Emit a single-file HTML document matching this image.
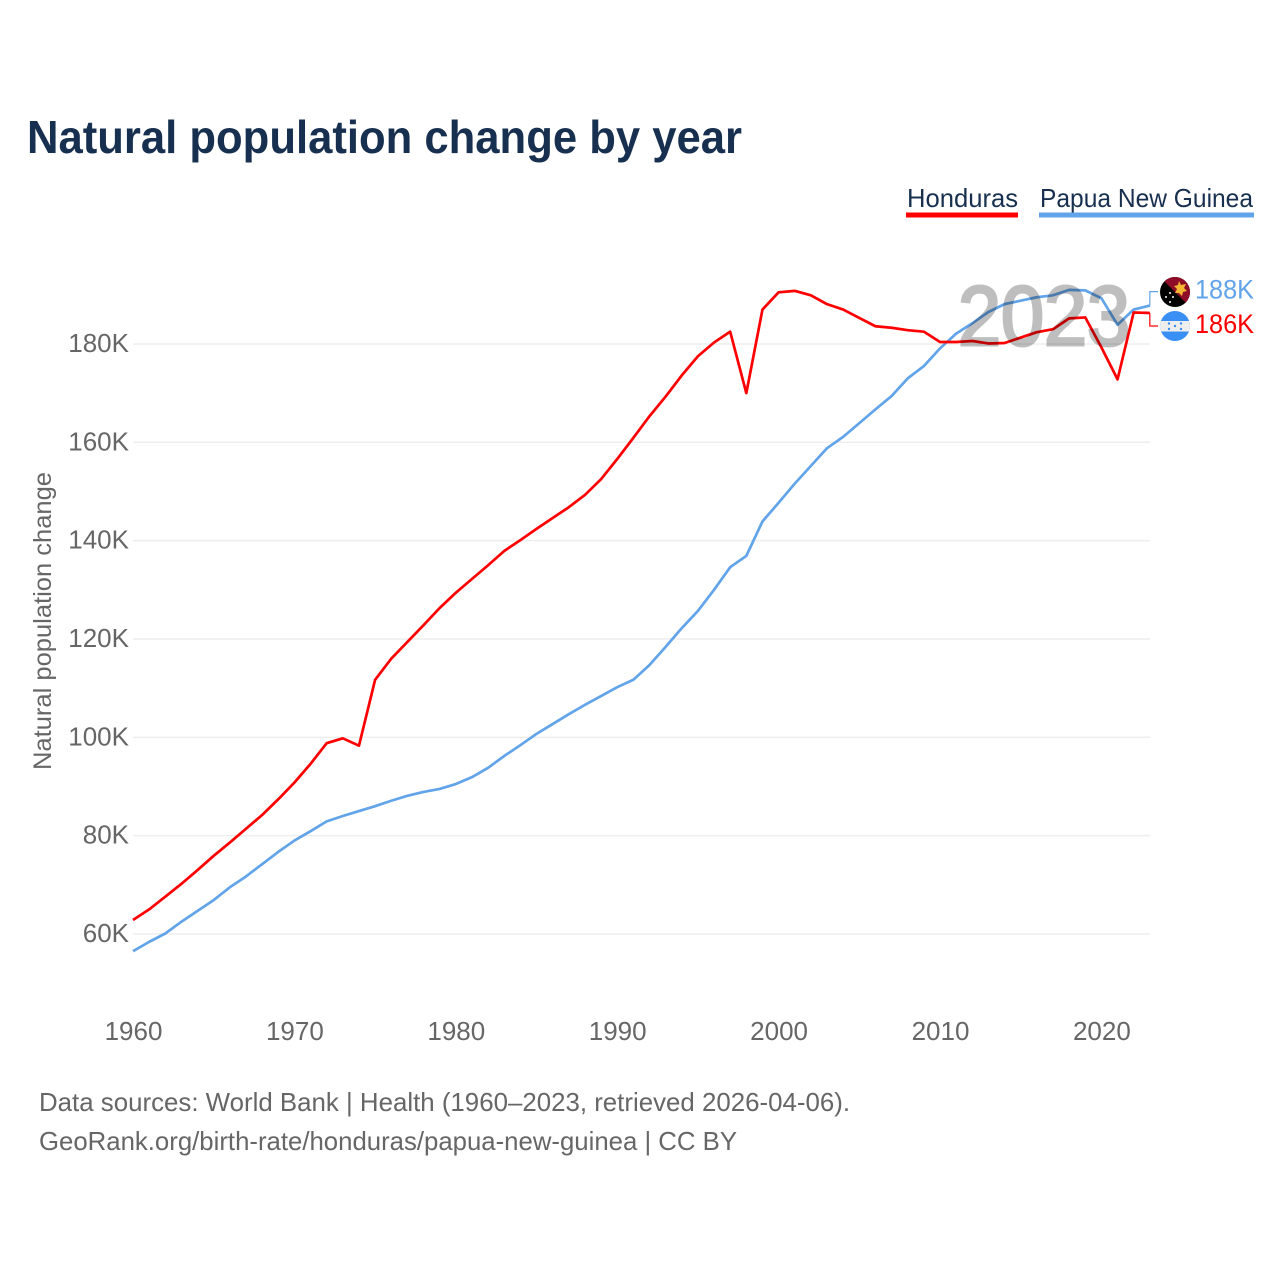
<!DOCTYPE html>
<html lang="en">
<head>
<meta charset="utf-8">
<title>Natural population change by year</title>
<style>
html,body{margin:0;padding:0;background:#fff;}
svg{display:block;font-family:"Liberation Sans",sans-serif;}
</style>
</head>
<body>
<svg id="chart" width="1280" height="1280" viewBox="0 0 1280 1280" xmlns="http://www.w3.org/2000/svg">
  <defs>
    <clipPath id="clip-png"><circle cx="1175" cy="292" r="15"/></clipPath>
    <clipPath id="clip-hnd"><circle cx="1175" cy="326" r="15"/></clipPath>
  </defs>
  <text x="27" y="153" font-size="46" font-weight="700" fill="#18304f" textLength="715" lengthAdjust="spacingAndGlyphs">Natural population change by year</text>

  <g>
    <g>
      <text x="907" y="207" font-size="26" fill="#18304f" textLength="111" lengthAdjust="spacingAndGlyphs">Honduras</text>
      <rect x="906" y="212.5" width="112" height="5" fill="#ff0000"/>
    </g>
    <g>
      <text x="1040" y="207" font-size="26" fill="#18304f" textLength="213" lengthAdjust="spacingAndGlyphs">Papua New Guinea</text>
      <rect x="1039" y="212.5" width="215" height="5" fill="#62a4ea"/>
    </g>
  </g>

  <g id="grid"></g>
  <g id="y-axis"></g>
  <g id="x-axis"></g>
  <text transform="translate(51,770) rotate(-90)" font-size="25" fill="#666666" textLength="298" lengthAdjust="spacingAndGlyphs">Natural population change</text>

  <g id="series"></g>
  <text x="958" y="345" font-size="84" font-weight="400" fill="#000000" stroke="#000000" stroke-width="3" opacity="0.25" textLength="172" lengthAdjust="spacingAndGlyphs">2023</text>
  <g id="end-labels"></g>

  <g clip-path="url(#clip-png)">
    <rect x="1160" y="277" width="30" height="30" fill="#000000"/>
    <polygon points="1160,277 1190,277 1190,307" fill="#8f0d28"/>
    <polygon points="1179,281 1181,285 1186,284 1184,288 1187,291 1183,292 1182,296 1179,293 1175,293 1177,289 1174,286 1178,285" fill="#f2b632"/>
    <circle cx="1170" cy="293" r="1" fill="#fff"/>
    <circle cx="1166" cy="297" r="1" fill="#fff"/>
    <circle cx="1173" cy="297" r="1" fill="#fff"/>
    <circle cx="1170" cy="302" r="1" fill="#fff"/>
  </g>
  <g clip-path="url(#clip-hnd)">
    <rect x="1160" y="311" width="30" height="30" fill="#3a8ff5"/>
    <rect x="1160" y="321" width="30" height="10.5" fill="#eeeeee"/>
    <circle cx="1169" cy="323.5" r="1.2" fill="#3a8ff5"/>
    <circle cx="1181" cy="323.5" r="1.2" fill="#3a8ff5"/>
    <circle cx="1175" cy="326" r="1.2" fill="#3a8ff5"/>
    <circle cx="1169" cy="329" r="1.2" fill="#3a8ff5"/>
    <circle cx="1181" cy="329" r="1.2" fill="#3a8ff5"/>
  </g>

  <g>
    <text x="39" y="1111" font-size="26" fill="#666666" textLength="811" lengthAdjust="spacingAndGlyphs">Data sources: World Bank | Health (1960–2023, retrieved 2026-04-06).</text>
    <text x="39" y="1150" font-size="26" fill="#666666" textLength="698" lengthAdjust="spacingAndGlyphs">GeoRank.org/birth-rate/honduras/papua-new-guinea | CC BY</text>
  </g>
</svg>
<script>
const startYear = 1960;
const yTicks = [60, 80, 100, 120, 140, 160, 180];
const xTicks = [1960, 1970, 1980, 1990, 2000, 2010, 2020];
const honduras = [62.85,65.0,67.6,70.2,73.0,75.9,78.6,81.4,84.2,87.4,90.8,94.6,98.8,99.8,98.3,111.7,116.0,119.4,122.8,126.3,129.4,132.2,135.0,137.9,140.1,142.4,144.6,146.8,149.3,152.5,156.6,160.9,165.3,169.3,173.6,177.5,180.3,182.5,170.0,187.0,190.5,190.8,189.9,188.1,187.0,185.3,183.6,183.3,182.8,182.5,180.4,180.4,180.6,180.1,180.2,181.3,182.4,183.0,185.2,185.4,179.3,172.8,186.4,186.3];
const papuaNewGuinea = [56.5,58.4,60.1,62.5,64.7,66.9,69.5,71.7,74.2,76.7,79.0,80.9,82.9,84.0,85.0,86.0,87.1,88.1,88.9,89.5,90.5,91.9,93.8,96.2,98.4,100.7,102.7,104.7,106.6,108.4,110.2,111.7,114.7,118.4,122.2,125.7,130.0,134.6,136.9,143.9,147.7,151.6,155.2,158.8,161.1,163.9,166.7,169.4,173.0,175.5,179.1,182.1,184.2,186.5,188.1,188.8,189.5,189.9,191.0,190.9,189.3,183.9,187.0,187.8];

const NS = 'http://www.w3.org/2000/svg';
const xScale = year => 133 + (year - 1960) * 16.14;
const yScale = v => 934 - (v - 60) * 4.917;
const fmt = v => Math.round(v) + 'K';
const mk = (tag, attrs, parent) => {
  const el = document.createElementNS(NS, tag);
  for (const k in attrs) el.setAttribute(k, attrs[k]);
  parent.appendChild(el);
  return el;
};

const grid = document.getElementById('grid');
const yAxis = document.getElementById('y-axis');
yTicks.forEach(t => {
  const line = mk('line', {x1: 133, x2: 1150, y1: yScale(t), y2: yScale(t), stroke: '#eeeeee', 'stroke-width': 1.5}, grid);
  
  
  const label = mk('text', {x: 129, y: yScale(t) + 8, 'text-anchor': 'end', 'font-size': 26, fill: '#666666'}, yAxis);
  
  
  label.textContent = t + 'K';
});

const xAxis = document.getElementById('x-axis');
xTicks.forEach(t => {
  const label = mk('text', {x: xScale(t) + 0.5, y: 1040, 'text-anchor': 'middle', 'font-size': 26, fill: '#666666'}, xAxis);
  
  
  label.textContent = t;
});

const toPath = values => values.map((v, i) => (i ? 'L' : 'M') + xScale(startYear + i).toFixed(2) + ' ' + yScale(v).toFixed(2)).join(' ');
const seriesGroup = document.getElementById('series');

const linePng = mk('path', {d: toPath(papuaNewGuinea), fill: 'none', stroke: '#62a4ea', 'stroke-width': 2.7, 'stroke-linejoin': 'round'}, seriesGroup);



const lineHnd = mk('path', {d: toPath(honduras), fill: 'none', stroke: '#ff0000', 'stroke-width': 2.7, 'stroke-linejoin': 'round'}, seriesGroup);



const endGroup = document.getElementById('end-labels');
const lastYear = startYear + honduras.length - 1;
const endX = xScale(lastYear);

const lastPng = papuaNewGuinea[papuaNewGuinea.length - 1];
const yPng = yScale(lastPng);
const connPng = mk('path', {d: `M${endX} ${yPng} V${yPng - 14} H1158`, fill: 'none', stroke: '#62a4ea', 'stroke-width': 1.2}, endGroup);


const labelPng = mk('text', {x: 1195, y: yPng + 3 - 10, 'font-size': 27, fill: '#62a4ea', textLength: 59, lengthAdjust: 'spacingAndGlyphs'}, endGroup);


labelPng.textContent = fmt(lastPng);

const lastHnd = honduras[honduras.length - 1];
const yHnd = yScale(lastHnd);
const connHnd = mk('path', {d: `M${endX} ${yHnd} V${yHnd + 13} H1158`, fill: 'none', stroke: '#ff0000', 'stroke-width': 1.2}, endGroup);


const labelHnd = mk('text', {x: 1195, y: yHnd + 20, 'font-size': 27, fill: '#ff0000', textLength: 59, lengthAdjust: 'spacingAndGlyphs'}, endGroup);


labelHnd.textContent = fmt(lastHnd);
</script>
</body>
</html>
